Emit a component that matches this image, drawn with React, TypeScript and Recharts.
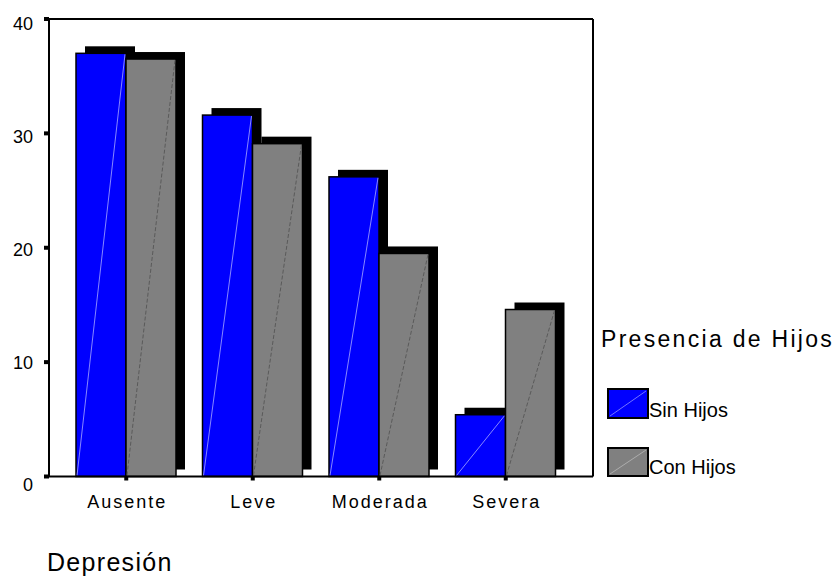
import React from 'react';
import { BarChart, Bar, XAxis, YAxis, Legend, ReferenceLine } from 'recharts';

const categories = ['Ausente', 'Leve', 'Moderada', 'Severa'];
const sinHijos = [37.0, 31.6, 26.2, 5.4];
const conHijos = [36.5, 29.1, 19.5, 14.6];
const yTicks = [0, 10, 20, 30, 40];
const seriesNames = ['Sin Hijos', 'Con Hijos'];
const xTitle = 'Depresión';
const legendTitle = 'Presencia de Hijos';

const data = categories.map((c, i) => ({ name: c, sin: sinHijos[i], con: conHijos[i] }));

const FONT = '"Liberation Sans", Arial, sans-serif';
const BLUE = '#0000ff';
const GRAY = '#808080';

const makeShape = (fill: string, diag: string, dash?: string) => (props: any) => {
  const { x, y, width, height } = props;
  if (!height || height <= 0) return <g />;
  return (
    <g>
      <rect x={x + 9} y={y - 7} width={width} height={height} fill="#000" />
      <rect x={x} y={y} width={width} height={height} fill={fill} stroke="#000" strokeWidth={1.5} />
      <line x1={x + 1} y1={y + height - 1} x2={x + width - 1} y2={y + 1} stroke={diag} strokeWidth={1} strokeDasharray={dash} />
    </g>
  );
};

const YTick = (props: any) => {
  const { x, y, payload } = props;
  const extra: Record<number, number> = { 0: 8, 10: 0.5, 20: 1.5, 30: 3.5, 40: 5 };
  return (
    <text x={x} y={y + (extra[payload.value] ?? 0)} dy="0.36em" textAnchor="end" fontSize={18} fontFamily={FONT} fill="#000">
      {payload.value}
    </text>
  );
};

const XTick = (props: any) => {
  const { x, y, payload } = props;
  return (
    <text x={x + 1} y={y} dy="0.71em" textAnchor="middle" fontSize={18} fontFamily={FONT} fill="#000" letterSpacing={2}>
      {payload.value}
    </text>
  );
};

const renderLegend = () => (
  <svg width={244} height={180} style={{ display: 'block' }}>
    <text x={7} y={29} fontSize={23} fontFamily={FONT} letterSpacing={2.3} fill="#000">{legendTitle}</text>
    <rect x={14} y={71} width={40} height={29} fill={BLUE} stroke="#000" strokeWidth={2} />
    <line x1={16} y1={98} x2={52} y2={73} stroke="rgba(255,255,255,0.45)" strokeWidth={1} />
    <text x={55} y={99} fontSize={20} fontFamily={FONT} fill="#000">{seriesNames[0]}</text>
    <rect x={14} y={130} width={40} height={28} fill={GRAY} stroke="#000" strokeWidth={2} />
    <line x1={16} y1={156} x2={52} y2={132} stroke="rgba(255,255,255,0.35)" strokeWidth={1} />
    <text x={55} y={156} fontSize={20} fontFamily={FONT} fill="#000">{seriesNames[1]}</text>
  </svg>
);

export default function App() {
  return (
    <div style={{ position: 'fixed', left: 0, top: 0, width: 838, height: 578, overflow: 'hidden', background: '#fff' }}>
      <BarChart
        width={838}
        height={578}
        data={data}
        margin={{ top: 18, right: 244, left: 0, bottom: 71.5 }}
        barSize={50}
        barGap={0}
      >
        <XAxis
          xAxisId="x"
          dataKey="name"
          padding={{ left: 14, right: 24 }}
          height={30}
          tickSize={4}
          tickMargin={14.5}
          tickLine={{ stroke: '#000', strokeWidth: 4 }}
          axisLine={{ stroke: '#000', strokeWidth: 2 }}
          tick={<XTick />}
        />
        <XAxis
          xAxisId="top"
          dataKey="name"
          orientation="top"
          height={1}
          tick={false}
          tickLine={false}
          axisLine={{ stroke: '#000', strokeWidth: 2 }}
        />
        <YAxis
          yAxisId="y"
          domain={[0, 40]}
          ticks={yTicks}
          width={49}
          tickSize={5}
          tickMargin={11}
          tickLine={{ stroke: '#000', strokeWidth: 4 }}
          axisLine={{ stroke: '#000', strokeWidth: 2 }}
          tick={<YTick />}
        />
        <YAxis
          yAxisId="r"
          orientation="right"
          domain={[0, 40]}
          width={1}
          tick={false}
          tickLine={false}
          axisLine={{ stroke: '#000', strokeWidth: 2 }}
        />
        <ReferenceLine xAxisId="x" yAxisId="y" y={40} stroke="#000" strokeWidth={2} />
        <Legend
          layout="horizontal"
          verticalAlign="middle"
          align="center"
          content={renderLegend}
          wrapperStyle={{ left: 594, top: 318, width: 244, height: 180 }}
        />
        <Bar
          xAxisId="x"
          yAxisId="y"
          dataKey="sin"
          name={seriesNames[0]}
          fill={BLUE}
          isAnimationActive={false}
          shape={makeShape(BLUE, 'rgba(150,150,255,0.9)')}
        />
        <Bar
          xAxisId="x"
          yAxisId="y"
          dataKey="con"
          name={seriesNames[1]}
          fill={GRAY}
          isAnimationActive={false}
          shape={makeShape(GRAY, '#5a5a5a', '4 2')}
        />
      </BarChart>
      <svg width={838} height={578} style={{ position: 'absolute', left: 0, top: 0, pointerEvents: 'none' }}>
        <text x={47} y={571} fontSize={25} fontFamily={FONT} letterSpacing={1.3} fill="#000">{xTitle}</text>
      </svg>
    </div>
  );
}
